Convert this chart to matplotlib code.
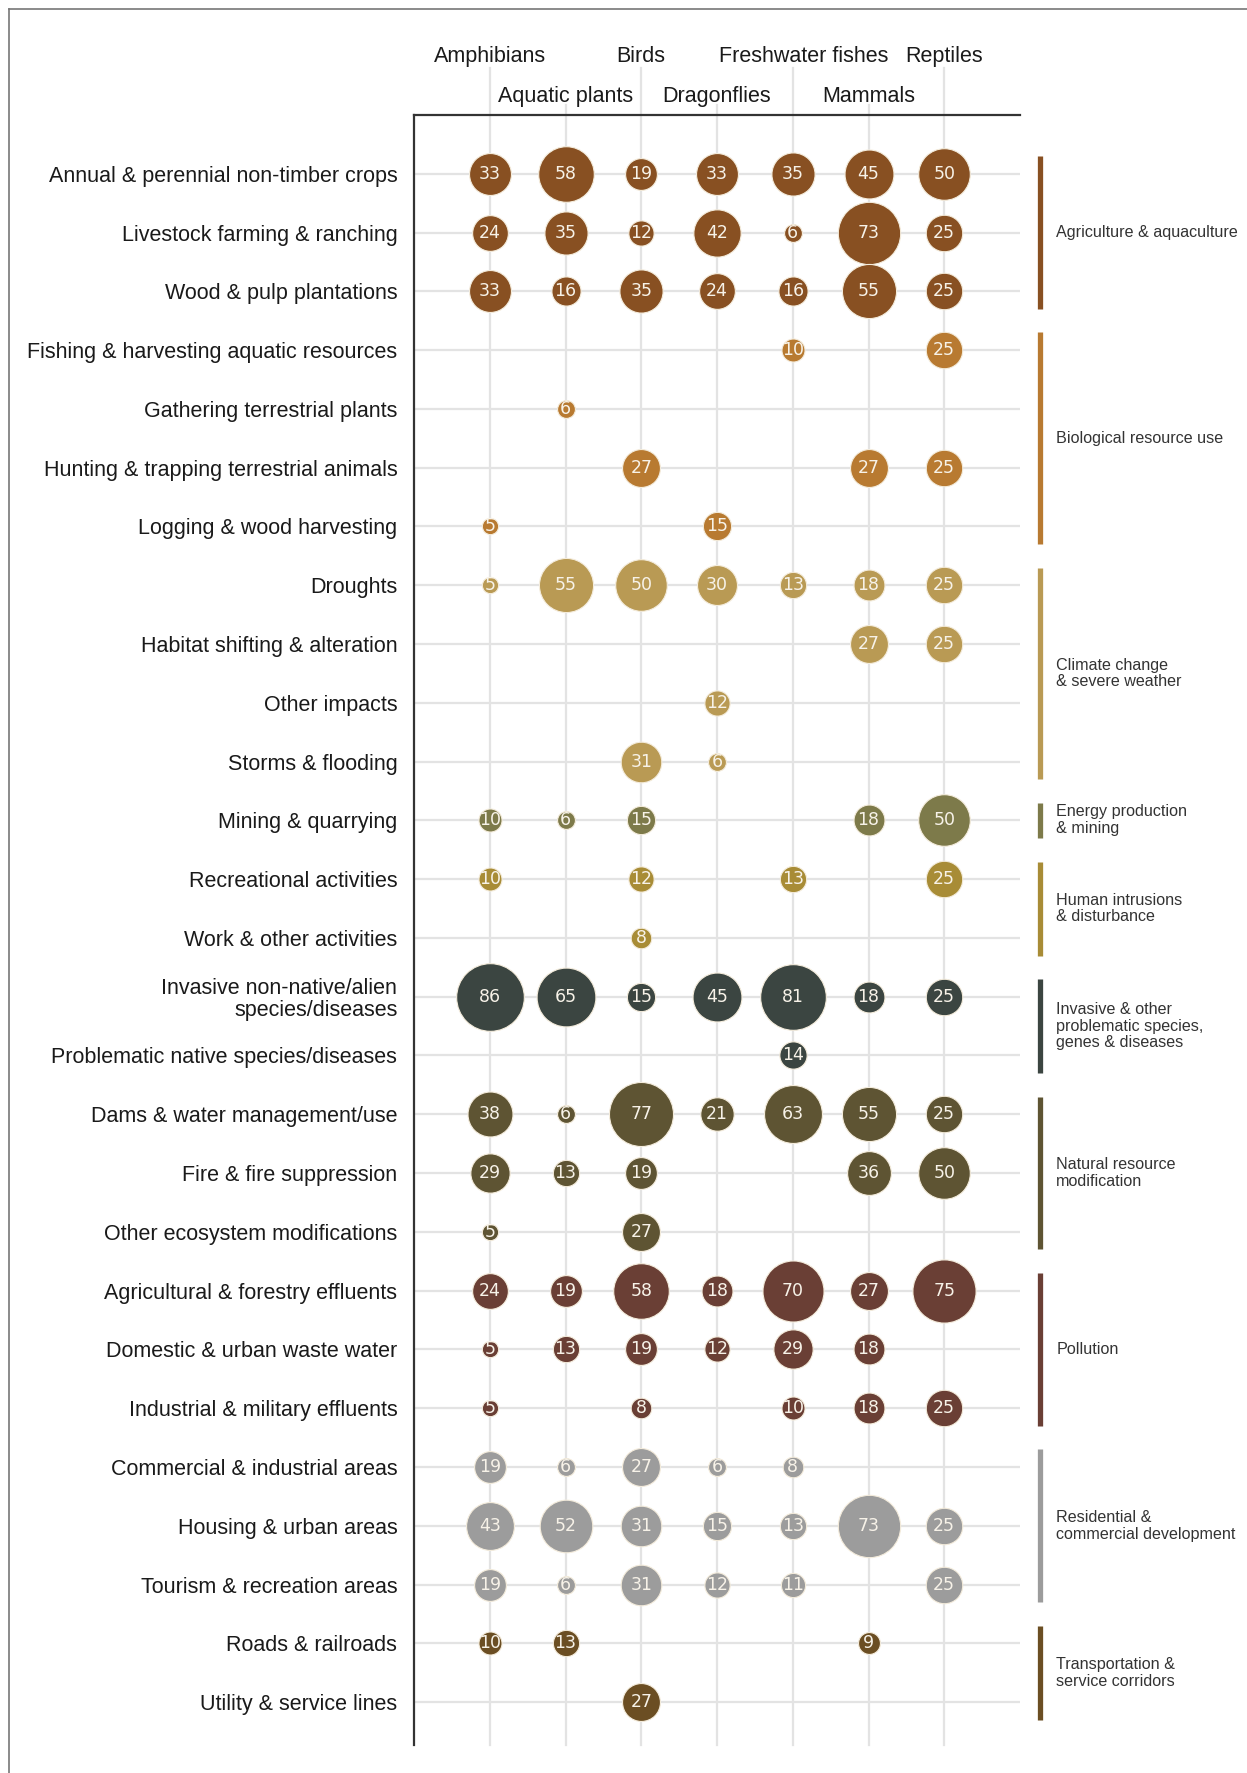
import matplotlib
matplotlib.use("Agg")
import matplotlib.pyplot as plt
from matplotlib.lines import Line2D

# taxa (columns) and threats (rows)
taxa = ["Amphibians", "Aquatic plants", "Birds", "Dragonflies",
        "Freshwater fishes", "Mammals", "Reptiles"]

threats = [
    "Annual & perennial non-timber crops", "Livestock farming & ranching",
    "Wood & pulp plantations", "Fishing & harvesting aquatic resources",
    "Gathering terrestrial plants", "Hunting & trapping terrestrial animals",
    "Logging & wood harvesting", "Droughts", "Habitat shifting & alteration",
    "Other impacts", "Storms & flooding", "Mining & quarrying",
    "Recreational activities", "Work & other activities",
    "Invasive non-native/alien\nspecies/diseases",
    "Problematic native species/diseases", "Dams & water management/use",
    "Fire & fire suppression", "Other ecosystem modifications",
    "Agricultural & forestry effluents", "Domestic & urban waste water",
    "Industrial & military effluents", "Commercial & industrial areas",
    "Housing & urban areas", "Tourism & recreation areas",
    "Roads & railroads", "Utility & service lines",
]

# percentage of assessed species per taxon affected (None = not shown)
N = None
values = [
    [33, 58, 19, 33, 35, 45, 50],
    [24, 35, 12, 42, 6, 73, 25],
    [33, 16, 35, 24, 16, 55, 25],
    [N, N, N, N, 10, N, 25],
    [N, 6, N, N, N, N, N],
    [N, N, 27, N, N, 27, 25],
    [5, N, N, 15, N, N, N],
    [5, 55, 50, 30, 13, 18, 25],
    [N, N, N, N, N, 27, 25],
    [N, N, N, 12, N, N, N],
    [N, N, 31, 6, N, N, N],
    [10, 6, 15, N, N, 18, 50],
    [10, N, 12, N, 13, N, 25],
    [N, N, 8, N, N, N, N],
    [86, 65, 15, 45, 81, 18, 25],
    [N, N, N, N, 14, N, N],
    [38, 6, 77, 21, 63, 55, 25],
    [29, 13, 19, N, N, 36, 50],
    [5, N, 27, N, N, N, N],
    [24, 19, 58, 18, 70, 27, 75],
    [5, 13, 19, 12, 29, 18, N],
    [5, N, 8, N, 10, 18, 25],
    [19, 6, 27, 6, 8, N, N],
    [43, 52, 31, 15, 13, 73, 25],
    [19, 6, 31, 12, 11, N, 25],
    [10, 13, N, N, N, 9, N],
    [N, N, 27, N, N, N, N],
]

group_names = [
    "Agriculture & aquaculture", "Biological resource use",
    "Climate change\n& severe weather", "Energy production\n& mining",
    "Human intrusions\n& disturbance",
    "Invasive & other\nproblematic species,\ngenes & diseases",
    "Natural resource\nmodification", "Pollution",
    "Residential &\ncommercial development",
    "Transportation &\nservice corridors",
]
group_sizes = [3, 4, 4, 1, 2, 2, 3, 3, 3, 2]
group_colors = ["#885022", "#b87a31", "#b99a54", "#7d7a4a", "#a88c36",
                "#3b4541", "#5e5433", "#6a3f35", "#9c9c9c", "#6b4e23"]

W, H = 1247, 1773
fig = plt.figure(figsize=(W / 100, H / 100), dpi=100)
fig.patch.set_facecolor("white")

ax_l, ax_r, ax_t, ax_b = 414, 1020, 115, 1745
ax = fig.add_axes([ax_l / W, 1 - ax_b / H, (ax_r - ax_l) / W, (ax_b - ax_t) / H])
ax.set_xlim(-1, 7)
ax.set_ylim(26.73, -1)

grid_c = "#e3e3e3"
n_rows = len(threats)
for i in range(n_rows):
    ax.axhline(i, color=grid_c, lw=1.6, zorder=1)

# column lines reach up to the staggered taxon labels
label_shift = {"Freshwater fishes": 0.14}
for j, name in enumerate(taxa):
    top = -1.8 if j % 2 == 0 else -1.17
    ly = -2.0 if j % 2 == 0 else -1.32
    ax.plot([j, j], [top, 26.73], color=grid_c, lw=1.6, zorder=1, clip_on=False)
    ax.text(j + label_shift.get(name, 0), ly, name, ha="center", va="center",
            fontsize=15.5, family="Liberation Sans", color="#1a1a1a",
            clip_on=False)

# row -> group colour
row_colors = []
for c, n in zip(group_colors, group_sizes):
    row_colors += [c] * n

for i, row in enumerate(values):
    for j, v in enumerate(row):
        if v is None:
            continue
        ax.scatter(j, i, s=v * 27.6, color=row_colors[i], edgecolor="#f4ecdc",
                   linewidth=0.8, zorder=3)
        ax.text(j, i, str(v), ha="center", va="center", fontsize=12.5,
                family=["Liberation Sans Narrow", "DejaVu Sans"],
                color="#f7f2e8", zorder=4)

# group bars and labels on the right
start = 0
for name, n, c in zip(group_names, group_sizes, group_colors):
    y0, y1 = start - 0.3, start + n - 1 + 0.3
    ax.plot([7.27, 7.27], [y0, y1], color=c, lw=3.8, solid_capstyle="butt",
            clip_on=False)
    ax.text(7.48, (y0 + y1) / 2, name, ha="left", va="center", fontsize=11.6,
            family="Liberation Sans", color="#333333", linespacing=1.15,
            clip_on=False)
    start += n

ax.set_yticks(range(n_rows))
ax.set_yticklabels(threats, fontsize=15.5, family="Liberation Sans",
                   color="#1a1a1a", linespacing=1.05)
ax.tick_params(axis="y", length=0, pad=12)
ax.set_xticks([])

for side in ["right", "bottom"]:
    ax.spines[side].set_visible(False)
for side in ["left", "top"]:
    ax.spines[side].set_color("#333333")
    ax.spines[side].set_linewidth(1.6)

# thin grey frame of the original figure
fig.add_artist(Line2D([9 / W, 9 / W], [0, 1 - 9 / H], color="#777777", lw=1.2))
fig.add_artist(Line2D([9 / W, 1], [1 - 9 / H, 1 - 9 / H], color="#777777", lw=1.2))

fig.savefig("out.png", dpi=100)
